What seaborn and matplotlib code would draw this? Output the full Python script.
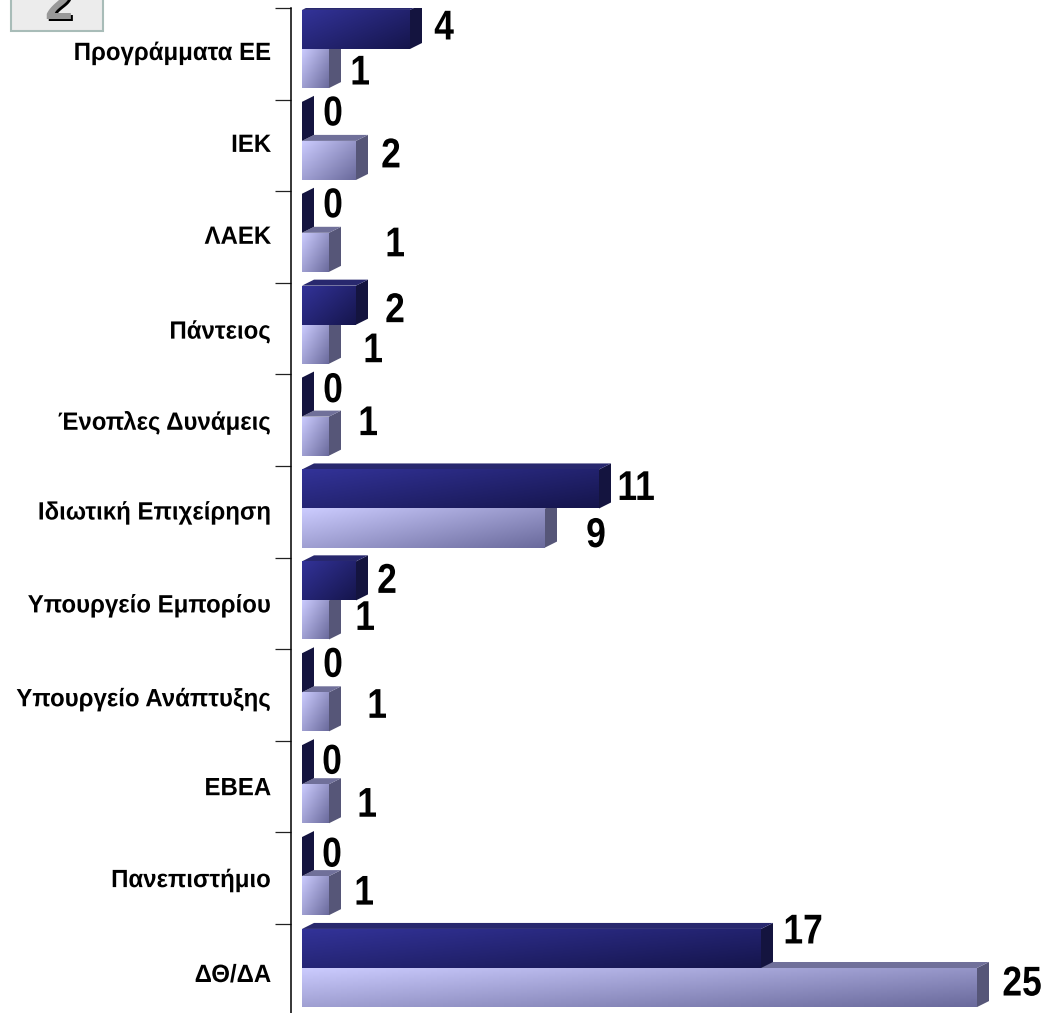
import numpy as np
import pandas as pd
import matplotlib.pyplot as plt
import seaborn as sns
from matplotlib.patches import Polygon, Rectangle
from matplotlib.patheffects import AbstractPathEffect
from matplotlib.transforms import Affine2D, IdentityTransform

# data, top to bottom as in the chart
categories = ["Προγράμματα ΕΕ", "ΙΕΚ", "ΛΑΕΚ", "Πάντειος", "Ένοπλες Δυνάμεις",
              "Ιδιωτική Επιχείρηση", "Υπουργείο Εμπορίου", "Υπουργείο Ανάπτυξης",
              "ΕΒΕΑ", "Πανεπιστήμιο", "ΔΘ/ΔΑ"]
dark_values = [4, 0, 0, 2, 0, 11, 2, 0, 0, 0, 17]
light_values = [1, 2, 1, 1, 1, 9, 1, 1, 1, 1, 25]

# label nudges in pixels, the original labels were placed by hand
dark_nudge = [(34, 2), (31, 8), (31, 8), (39, -5), (31, 7), (37, 1), (31, 0), (31, 8), (30, 3), (30, 2), (42, 17)]
light_nudge = [(31, -4), (35, 5), (66, 8), (44, -6), (39, 13), (51, -7), (36, 2), (48, 6), (38, -1), (35, 3), (45, 4)]
cat_nudge = [4, 4, 4, 7, 6, 4, 5, 7, 4, 4, 7]

W, H = 1046, 1013
sns.set_theme(style="white")
plt.rcParams["font.family"] = ["Liberation Sans", "DejaVu Sans"]


class Squeeze(AbstractPathEffect):
    # the original type is narrower than Liberation Sans, squeeze it sideways
    def __init__(self, sx, right=False):
        super().__init__()
        self.sx = sx
        self.right = right

    def draw_path(self, renderer, gc, tpath, affine, rgbFace=None):
        ext = tpath.get_extents()
        cx = ext.x1 if self.right else (ext.x0 + ext.x1) / 2
        squeeze = Affine2D().translate(-cx, 0).scale(self.sx, 1).translate(cx, 0)
        renderer.draw_path(gc, tpath, squeeze + affine, rgbFace)


df = pd.DataFrame({
    "category": categories * 2,
    "value": dark_values + light_values,
    "series": ["dark"] * 11 + ["light"] * 11,
})

fig = plt.figure(figsize=(W / 100, H / 100), dpi=100, facecolor="white")
ax = fig.add_axes([291 / W, 0, 1 - 291 / W, 1 - 8 / H])
ax.patch.set_alpha(0)

sns.barplot(data=df, y="category", x="value", hue="series", order=categories,
            palette={"dark": "#333399", "light": "#ccccff"}, width=0.85,
            dodge=True, gap=0, legend=False, ax=ax, linewidth=0, saturation=1)

# 27 px per unit, zero sits 11 px right of the axis line
ax.set_xlim(-11 / 27, (W - 302) / 27)
ax.set_ylim((1013 - 49) / 91.9, (8 - 49) / 91.9)
ax.set_xticks([])
ax.set_xlabel("")
ax.set_ylabel("")
sns.despine(ax=ax, top=True, right=True, bottom=True)
ax.spines["left"].set_color("black")
ax.spines["left"].set_linewidth(1.1)

# ticks sit between the groups
ax.set_yticks([])
ax.set_yticks([(8 + 91.6 * i - 49) / 91.9 for i in range(11)], minor=True)
ax.tick_params(axis="y", which="minor", left=True, length=11.5, width=0.9, color="#222222")

DX, DY = 12, 6  # depth of the fake 3d bars, pixels
styles = [
    ("#333399", "#15154c", "#14143f", "#28286e"),
    ("#ccccff", "#6a6a9c", "#565678", "#70709a"),
]


def gradient(c1, c2):
    a, b = np.array(plt.matplotlib.colors.to_rgb(c1)), np.array(plt.matplotlib.colors.to_rgb(c2))
    gx, gy = np.meshgrid(np.linspace(0, 1, 120), np.linspace(0, 1, 40))
    t = (0.55 * gx + 0.45 * gy)[..., None]
    return a + (b - a) * t


# light series goes first so the dark front covers its top face
for k in [1, 0]:
    c1, c2, side, top = styles[k]
    for bar in ax.containers[k]:
        x0, y0 = bar.get_x(), bar.get_y()
        x1, y1 = x0 + bar.get_width(), y0 + bar.get_height()
        (px0, py_top), (px1, py_bot) = ax.transData.transform([(x0, y0), (x1, y1)])
        z = 3 + (1 - k)
        ax.add_patch(Polygon([(px1, py_top), (px1 + DX, py_top + DY), (px1 + DX, py_bot + DY), (px1, py_bot)],
                             closed=True, fc=side, ec="none", transform=IdentityTransform(), zorder=z))
        if bar.get_width() > 0:
            ax.add_patch(Polygon([(px0, py_top), (px0 + DX, py_top + DY), (px1 + DX, py_top + DY), (px1, py_top)],
                                 closed=True, fc=top, ec="none", transform=IdentityTransform(), zorder=z))
            im = ax.imshow(gradient(c1, c2), extent=(x0, x1, y1, y0), aspect="auto",
                           origin="upper", zorder=z + 0.1)
            im.set_clip_path(bar)
        bar.set_visible(bar.get_width() > 0)
        bar.set_zorder(z)

ax.set_xlim(-11 / 27, (W - 302) / 27)
ax.set_ylim((1013 - 49) / 91.9, (8 - 49) / 91.9)

num_font = dict(fontsize=30, fontweight="bold", color="black", ha="center", va="center",
                zorder=10, annotation_clip=False, path_effects=[Squeeze(0.85)])
for k, (vals, nudges) in enumerate([(dark_values, dark_nudge), (light_values, light_nudge)]):
    for bar, v, (nx, ny) in zip(ax.containers[k], vals, nudges):
        ax.annotate(str(v), xy=(v, bar.get_y() + bar.get_height() / 2), xycoords="data",
                    xytext=(nx, ny - 1), textcoords="offset pixels", **num_font)

for i, (name, ny) in enumerate(zip(categories, cat_nudge)):
    ax.annotate(name, xy=(0, i), xycoords=ax.get_yaxis_transform(), xytext=(-20, -ny),
                textcoords="offset pixels", ha="right", va="center",
                fontsize=18, fontweight="bold", color="black", path_effects=[Squeeze(0.96, right=True)])

# the slide number box, cut off by the top edge
fig.add_artist(Rectangle((11 / W, 1 - 31 / H), 92 / W, 40 / H, transform=fig.transFigure,
                         fc="#ececec", ec="#a8bcb8", lw=1.5))
fig.text(60 / W, 1 - 21 / H, "2", fontsize=36, fontweight="bold", color="black", ha="center", va="baseline")
fig.text(58 / W, 1 - 19 / H, "2", fontsize=36, fontweight="bold", color="#999999", ha="center", va="baseline")

fig.savefig("out.png", dpi=100)
